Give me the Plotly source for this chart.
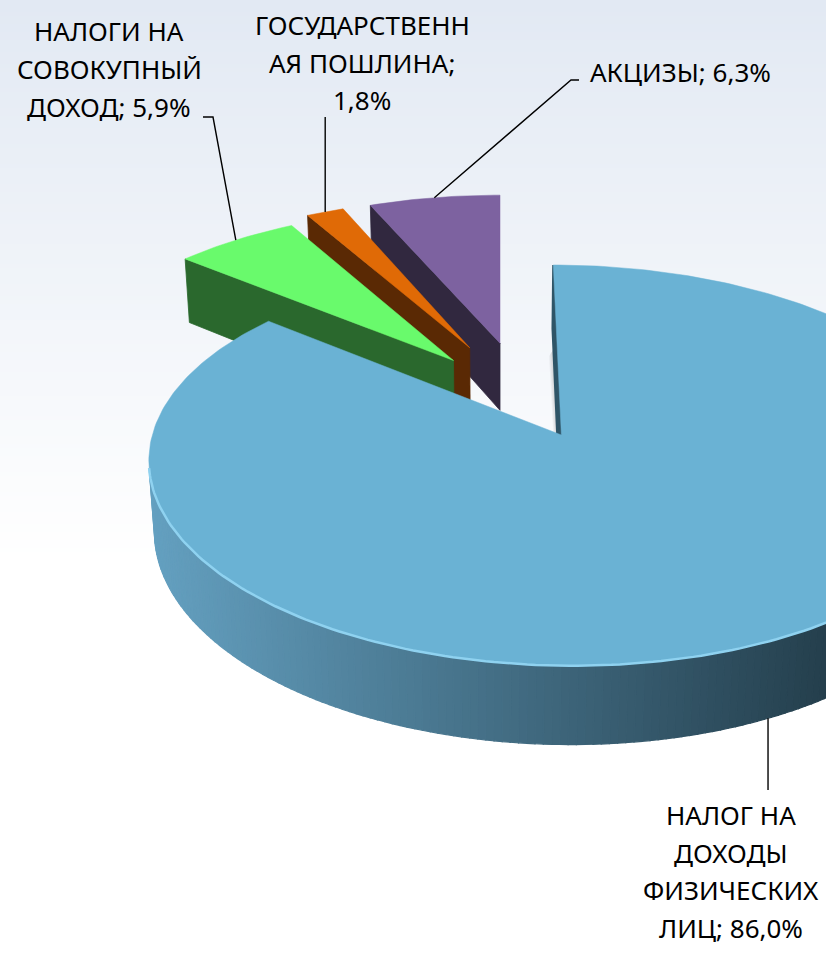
import numpy as np
import plotly.graph_objects as go

# ---------------- data ----------------
categories = ["НАЛОГ НА ДОХОДЫ ФИЗИЧЕСКИХ ЛИЦ", "НАЛОГИ НА СОВОКУПНЫЙ ДОХОД",
              "ГОСУДАРСТВЕННАЯ ПОШЛИНА", "АКЦИЗЫ"]
shares = [86.0, 5.9, 1.8, 6.3]
label_lines = [["НАЛОГ НА", "ДОХОДЫ", "ФИЗИЧЕСКИХ", "ЛИЦ; 86,0%"],
               ["НАЛОГИ НА", "СОВОКУПНЫЙ", "ДОХОД; 5,9%"],
               ["ГОСУДАРСТВЕНН", "АЯ ПОШЛИНА;", "1,8%"],
               ["АКЦИЗЫ; 6,3%"]]
top_colors = ["#6ab2d4", "#69fa6c", "#e06a06", "#7d62a0"]
side_colors = ["#2f5567", "#2a682d", "#5a2904", "#31283f"]

# ---------------- style / layout ----------------
W, H = 826, 953
EXPLODE = [0.20, 0.29, 0.33, 0.33]
THICK = 0.2
ELEV = np.radians(27.76)
SA, CA = np.sin(ELEV), np.cos(ELEV)
DIST = 6.0
FOCAL = 2389.0
SX, SY = 500.0, 400.5
FONT = dict(family="Noto Sans, Open Sans, sans-serif", size=26, color="#000000")

# label placement: (center x, first line y, line step) and leader elbow / end
label_pos = [(731, 815, 37.7), (109, 31, 38), (362, 25, 37.5), (680, 72, 0)]
leader_pts = [[(None, 790)], [(213, 117), (203, 117)], [(None, 117)], [(571, 80), (579, 80)]]

frac = np.array(shares) / sum(shares)
ends = np.cumsum(frac) * 2 * np.pi
starts = ends - frac * 2 * np.pi
mids = (starts + ends) / 2
centers = [(EXPLODE[i] * np.sin(m), EXPLODE[i] * np.cos(m)) for i, m in enumerate(mids)]
XC = centers[-1][0]
CAM = np.array([XC, -DIST * CA, DIST * SA])


def proj(X, Y, Z):
    X, Y, Z = np.asarray(X, float), np.asarray(Y, float), np.asarray(Z, float)
    dep = DIST + Y * CA - Z * SA
    return SX + FOCAL * (X - XC) / dep, SY - FOCAL * (Y * SA + Z * CA) / dep


def visible(px, py, nx, ny):
    return (CAM[0] - px) * nx + (CAM[1] - py) * ny > 1e-9


def rgb(c):
    return "rgb(%d,%d,%d)" % tuple(np.clip(np.round(c), 0, 255))


fig = go.Figure()


def poly(xs, ys, color, lw=0.8, lcolor=None):
    fig.add_trace(go.Scatter(x=list(xs), y=list(ys), mode="lines", fill="toself",
                             fillcolor=color, line=dict(color=lcolor or color, width=lw),
                             hoverinfo="skip", showlegend=False))


grad_left = np.array([100, 160, 192])
grad_right = np.array([36, 62, 76])

order = sorted(range(len(shares)), key=lambda i: -centers[i][1])
anchors = {}
for i in order:
    cx, cy = centers[i]
    s, e = starts[i], ends[i]
    n = max(4, int(np.degrees(e - s) / 1.0) + 1)
    th = np.linspace(s, e, n)
    ax, ay = cx + np.sin(th), cy + np.cos(th)
    if i == 0:
        # soft shadow left of the 12 o'clock edge
        for k in range(8, 0, -1):
            yy = np.array([cy, cy + 0.5])
            ex0, ey0 = proj([cx, cx], yy, [0, 0])
            xs = [ex0[0] - k, ex0[1] - k, ex0[1], ex0[0]]
            ys = [ey0[0], ey0[1] + k * 1.5, ey0[1], ey0[0]]
            fig.add_trace(go.Scatter(x=xs + [xs[0]], y=ys + [ys[0]], mode="lines", fill="toself",
                                     fillcolor="rgba(90,90,90,0.06)", line=dict(width=0),
                                     hoverinfo="skip", showlegend=False))
    # radial walls
    for ang, sign in ((s, -1), (e, 1)):
        nang = ang + sign * np.pi / 2
        ex, ey = cx + np.sin(ang), cy + np.cos(ang)
        if visible((cx + ex) / 2, (cy + ey) / 2, np.sin(nang), np.cos(nang)):
            X = [cx, ex, ex, cx, cx]
            Y = [cy, ey, ey, cy, cy]
            Z = [0, 0, -THICK, -THICK, 0]
            px, py = proj(X, Y, Z)
            poly(px, py, side_colors[i], lw=2.2 if i == 0 else 0.8)
    # outer wall strips
    front_arc = []
    for k in range(n - 1):
        tm = (th[k] + th[k + 1]) / 2
        if visible(cx + np.sin(tm), cy + np.cos(tm), np.sin(tm), np.cos(tm)):
            X = [ax[k], ax[k + 1], ax[k + 1], ax[k], ax[k]]
            Y = [ay[k], ay[k + 1], ay[k + 1], ay[k], ay[k]]
            Z = [0, 0, -THICK, -THICK, 0]
            px, py = proj(X, Y, Z)
            if i == 0:
                t = np.clip((np.mean(px[:4]) - 152) / (830 - 152), 0, 1)
                col = rgb(grad_left + (grad_right - grad_left) * t)
            else:
                col = side_colors[i]
            poly(px, py, col, lw=1.2)
            front_arc.append(k)
    # top face
    px, py = proj(np.r_[cx, ax, cx], np.r_[cy, ay, cy], np.zeros(n + 2))
    poly(px, py, top_colors[i], lw=0.5)
    if i == 0 and front_arc:
        ks = list(range(front_arc[0], front_arc[-1] + 2))
        lx, ly = proj(ax[ks], ay[ks], np.zeros(len(ks)))
        fig.add_trace(go.Scatter(x=lx, y=ly, mode="lines",
                                 line=dict(color="#8fd2f0", width=2.5),
                                 hoverinfo="skip", showlegend=False))
    # leader anchor
    m = mids[i]
    if i == 0:
        anchors[i] = proj(cx + np.sin(m), cy + np.cos(m), -THICK)
    else:
        anchors[i] = proj(cx + np.sin(m), cy + np.cos(m), 0)

# leader lines
for i in range(len(shares)):
    x0, y0 = float(anchors[i][0]), float(anchors[i][1])
    xs, ys = [x0], [y0]
    for (lx, ly) in leader_pts[i]:
        xs.append(x0 if lx is None else lx)
        ys.append(ly)
    fig.add_trace(go.Scatter(x=xs, y=ys, mode="lines", line=dict(color="#000000", width=1.4),
                             hoverinfo="skip", showlegend=False))

# labels
for i, lines in enumerate(label_lines):
    cx, y0, step = label_pos[i]
    for j, t in enumerate(lines):
        fig.add_annotation(x=cx, y=y0 + j * step, text=t, showarrow=False,
                           xanchor="center", yanchor="middle", font=FONT)

# background gradient (top)
shapes = []
top_bg = np.array([226, 233, 243])
for y in range(0, 560, 4):
    t = y / 560.0
    c = top_bg + (np.array([255, 255, 255]) - top_bg) * t
    shapes.append(dict(type="rect", xref="x", yref="y", x0=0, x1=W, y0=y, y1=y + 4,
                       fillcolor=rgb(c), line=dict(width=0), layer="below"))

fig.update_layout(
    width=W, height=H, autosize=False,
    margin=dict(l=0, r=0, t=0, b=0),
    paper_bgcolor="white", plot_bgcolor="white",
    xaxis=dict(range=[0, W], visible=False, fixedrange=True),
    yaxis=dict(range=[H, 0], visible=False, fixedrange=True),
    shapes=shapes, showlegend=False,
)
fig.write_html("out.html", config={"displayModeBar": False},
               post_script="document.body.style.margin='0';document.body.style.overflow='hidden';")
